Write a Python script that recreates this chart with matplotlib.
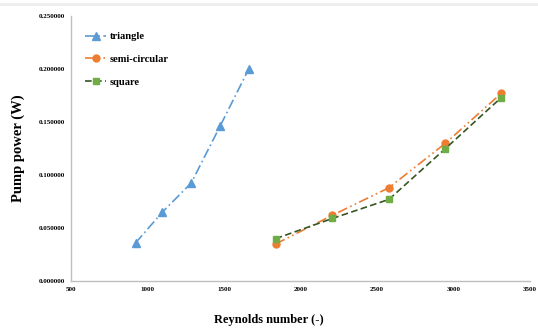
import matplotlib
matplotlib.use("Agg")
import matplotlib.pyplot as plt
from matplotlib.ticker import FormatStrFormatter
from matplotlib.lines import Line2D

tri_x = [922, 1097, 1286, 1474, 1662]
tri_y = [0.036, 0.065, 0.0925, 0.146, 0.200]
semi_x = [1838, 2208, 2578, 2948, 3312]
semi_y = [0.035, 0.062, 0.088, 0.130, 0.177]
sq_x = [1838, 2208, 2578, 2948, 3312]
sq_y = [0.040, 0.059, 0.077, 0.125, 0.173]

xticks = [500, 1000, 1500, 2000, 2500, 3000, 3500]
yticks = [0.0, 0.05, 0.10, 0.15, 0.20, 0.25]

plt.rcParams['font.family'] = ['Liberation Serif', 'DejaVu Serif']
fig = plt.figure(figsize=(5.38, 3.33), dpi=100)
ax = fig.add_axes([0.132, 0.156, 0.853, 0.796])

ax.plot(tri_x, tri_y, linestyle=(0, (6, 2, 1, 2)), color='#5B9BD5', lw=1.2,
        marker='^', ms=6, label='triangle')
ax.plot(semi_x, semi_y, linestyle=(0, (6, 2, 1, 2, 1, 2)), color='#ED7D31', lw=1.2,
        marker='o', ms=5, label='semi-circular')
ax.plot(sq_x, sq_y, linestyle=(0, (4, 2)), color='#375623', lw=1.2,
        marker='s', ms=5, mfc='#70AD47', mec='#70AD47', label='square')

ax.set_xlim(500, 3500)
ax.set_ylim(0, 0.25)
ax.set_xticks(xticks)
ax.set_yticks(yticks)
ax.yaxis.set_major_formatter(FormatStrFormatter('%.6f'))
for lab in ax.get_xticklabels() + ax.get_yticklabels():
    lab.set_fontsize(5)
    lab.set_fontweight('bold')
ax.tick_params(length=0, pad=4)
for s in ['top', 'right']:
    ax.spines[s].set_visible(False)
for s in ['left', 'bottom']:
    ax.spines[s].set_color('#BFBFBF')
    ax.spines[s].set_linewidth(1)

ax.set_xlabel('Reynolds number (-)', fontsize=9, fontweight='bold')
ax.xaxis.set_label_coords(0.43, -0.125)
ax.set_ylabel('Pump power (W)', fontsize=10.5, fontweight='bold', labelpad=10)

leg = ax.legend(loc='upper left', bbox_to_anchor=(0.01, 0.975), frameon=False,
                prop={'size': 7.6, 'weight': 'bold'}, handlelength=2.0,
                handletextpad=0.3, labelspacing=1.25)

fig.add_artist(Line2D([0, 1], [0.988, 0.988], transform=fig.transFigure,
                      color='#EEEEEE', lw=2))
fig.savefig('out.png', dpi=100)
